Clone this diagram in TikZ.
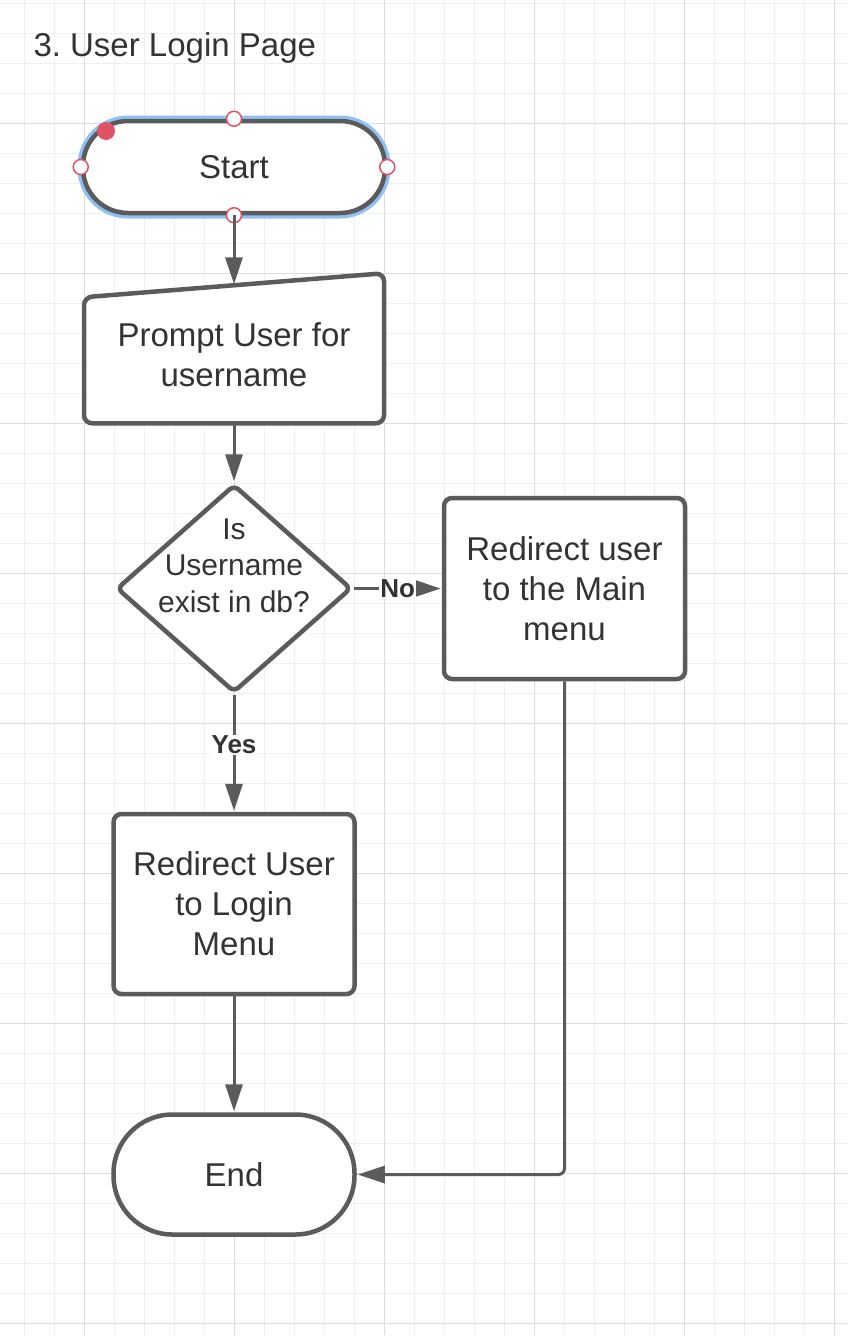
\documentclass[tikz,border=0pt]{standalone}
\usepackage{fontspec}
\setmainfont{Liberation Sans}
\usetikzlibrary{arrows.meta,positioning,shapes.geometric,backgrounds}
\frenchspacing

\definecolor{stroke}{HTML}{5B5B5B}
\definecolor{ink}{HTML}{333333}
\definecolor{gridminor}{HTML}{F0F0F0}
\definecolor{gridmajor}{HTML}{DDDDDD}
\definecolor{halo}{HTML}{8FBFF5}
\definecolor{handlered}{HTML}{DE5465}

\begin{document}
\begin{tikzpicture}[x=1pt,y=-1pt,->,>={Triangle[length=27pt,width=17pt]},
                    shorten >=1pt,line width=3pt,color=stroke]
  \tikzstyle{every node}=[text=ink,align=center,font=\fontsize{33}{40}\selectfont]
  \tikzstyle{terminal}=[draw=stroke,fill=white,line width=4.5pt,minimum width=302pt,
                        minimum height=92pt,rounded corners=45pt]
  \tikzstyle{process}=[draw=stroke,fill=white,line width=4.5pt,minimum width=241pt,
                       minimum height=181pt,rounded corners=8pt]
  \tikzstyle{decision}=[diamond,draw=stroke,fill=white,line width=4.5pt,minimum width=235pt,
                        minimum height=208pt,rounded corners=6pt]
  \tikzstyle{answer}=[fill=white,inner sep=1pt,font=\bfseries\fontsize{26}{30}\selectfont]
  \tikzstyle{handle}=[circle,draw=handlered,line width=1.5pt,fill=white,
                      minimum size=15pt,inner sep=0pt]
  \tikzstyle{minorline}=[-,gridminor,line width=1pt]
  \tikzstyle{majorline}=[-,gridmajor,line width=1pt]

  \useasboundingbox (0,0) rectangle (848,1336);
  \begin{scope}[on background layer]
    \fill[white] (0,0) rectangle (848,1336);
    \foreach \x in {24,54,...,834} \draw[minorline] (\x,0) -- (\x,1336);
    \foreach \y in {3,33,...,1323} \draw[minorline] (0,\y) -- (848,\y);
    \foreach \x in {84,234,...,834} \draw[majorline] (\x,0) -- (\x,1336);
    \foreach \y in {123,273,...,1323} \draw[majorline] (0,\y) -- (848,\y);
  \end{scope}

  \node[anchor=base west,inner sep=0pt] (title) at (32,56) {3. User Login Page};

  \node[terminal,preaction={draw=halo,line width=11pt}] (start) at (234,167) {Start};
  \foreach \a in {north,south,east,west}
    \node[handle] (start-\a) at (start.\a) {};
  \node[circle,fill=handlered,inner sep=0pt,minimum size=18pt] (start-grip)
       at ([shift={(-128pt,36pt)}]start.center) {};

  \node[minimum width=300pt,minimum height=138pt,outer sep=0pt]
       (prompt) [below=70pt of start] {Prompt User for\\username};
  \begin{scope}[on background layer]
    \filldraw[-,draw=stroke,fill=white,line width=4.5pt,rounded corners=8pt]
      ([yshift=-12pt]prompt.north west) -- ([yshift=12pt]prompt.north east)
      -- (prompt.south east) -- (prompt.south west) -- cycle;
  \end{scope}

  \node[decision] (check) [below=59pt of prompt] {};
  \node[font=\fontsize{30}{36.5}\selectfont] (check-text)
       at ([yshift=23pt]check.center) {Is\\Username\\exist in db?};
  \node[process] (main) [right=88pt of check] {Redirect user\\to the Main\\menu};
  \node[process,minimum height=180pt] (login) [below=117pt of check]
       {Redirect User\\to Login\\Menu};
  \node[terminal,minimum width=241pt,minimum height=120pt,rounded corners=59pt]
       (end) [below=116pt of login] {End};

  \draw (start) -- (prompt);
  \draw (prompt) -- (check);
  \draw (check) -- node[answer] (no) {No} (main);
  \draw (check) -- node[answer,pos=0.43] (yes) {Yes} (login);
  \draw (login) -- (end);
  \draw[rounded corners=6pt] (main) |- (end);
\end{tikzpicture}
\end{document}
